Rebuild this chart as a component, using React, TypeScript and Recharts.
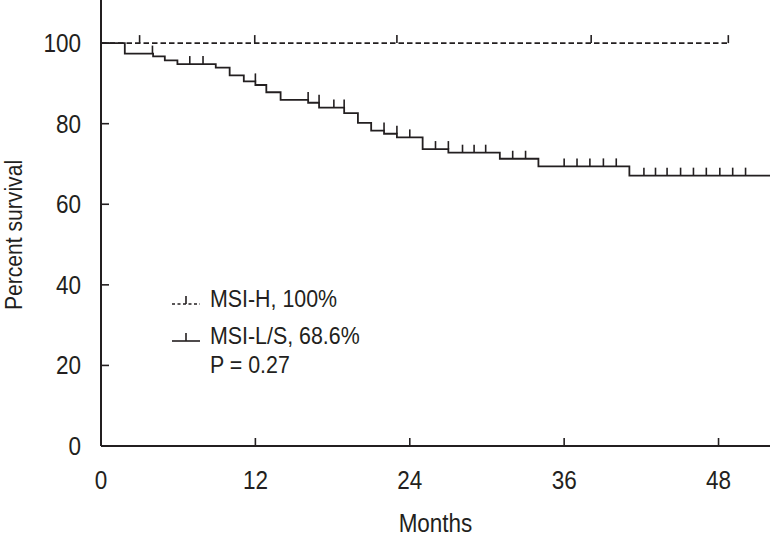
import { ComposedChart, Line, Scatter, XAxis, YAxis, Legend, Label } from "recharts";

// MSI-L/S Kaplan-Meier steps (months, percent surviving)
const msiLsMonths = [0, 1.85, 4.05, 4.96, 5.94, 8.92, 10.0, 11.1, 12.0, 12.85, 13.96, 16.1, 16.95, 18.9, 19.97, 21.0, 22.0, 23.0, 25.0, 27.0, 31.0, 34.0, 41.07, 52];
const msiLsSurvival = [100, 97.4, 96.7, 95.7, 94.8, 93.9, 92.0, 90.5, 89.6, 87.8, 85.9, 85.2, 84.0, 82.6, 80.2, 78.3, 77.5, 76.6, 73.7, 72.8, 71.3, 69.4, 67.1, 67.1];

// censored MSI-L/S cases
const msiLsCensorMonths = [4.0, 6.9, 7.93, 12.0, 16.1, 16.95, 18.1, 18.9, 22.0, 23.0, 24.0, 26.0, 27.0, 28.1, 29.0, 29.9, 32.0, 33.0, 36.0, 37.0, 38.0, 39.05, 40.05, 42.2, 43.1, 44.0, 45.05, 46.05, 47.05, 48.1, 49.1, 50.1];
const msiLsCensorSurvival = [97.4, 94.8, 94.8, 90.5, 85.9, 85.2, 84.0, 84.0, 78.3, 77.5, 76.6, 73.7, 73.7, 72.8, 72.8, 72.8, 71.3, 71.3, 69.4, 69.4, 69.4, 69.4, 69.4, 67.1, 67.1, 67.1, 67.1, 67.1, 67.1, 67.1, 67.1, 67.1];

// MSI-H: nobody died
const msiHMonths = [0, 48.76];
const msiHSurvival = [100, 100];
const msiHCensorMonths = [3.0, 11.95, 23.0, 38.1, 48.76];
const msiHCensorSurvival = [100, 100, 100, 100, 100];

const monthTicks = [0, 12, 24, 36, 48];
const percentTicks = [0, 20, 40, 60, 80, 100];

const INK = "#231f20";
const FONT = "'Liberation Sans', Arial, sans-serif";

const zip = (xs: number[], ys: number[]) => xs.map((m, i) => ({ m, s: ys[i] }));

const msiLsData = zip(msiLsMonths, msiLsSurvival);
const msiLsCensors = zip(msiLsCensorMonths, msiLsCensorSurvival);
const msiHData = zip(msiHMonths, msiHSurvival);
const msiHCensors = zip(msiHCensorMonths, msiHCensorSurvival);

// squeezed text to look like the condensed face of the original
const CText = ({ x, y, size, anchor = "start", sx = 0.88, rotate = 0, children }: any) => (
  <text
    transform={`translate(${x}, ${y}) rotate(${rotate}) scale(${sx}, 1)`}
    textAnchor={anchor}
    fill={INK}
    fontSize={size}
    fontFamily={FONT}
  >
    {children}
  </text>
);

const CensorMark = (props: any) => {
  const { cx, cy } = props;
  return <line x1={cx} x2={cx} y1={cy} y2={cy - 8} stroke={INK} strokeWidth={1.6} />;
};

const YTick = (props: any) => {
  const { x, y, payload } = props;
  return (
    <g>
      <line x1={x} x2={x + 8} y1={y} y2={y} stroke={INK} strokeWidth={1.6} />
      <CText x={x - 20} y={y + 9} size={25} anchor="end" sx={0.9}>{payload.value}</CText>
    </g>
  );
};

const XTick = (props: any) => {
  const { x, y, payload } = props;
  return (
    <g>
      <line x1={x} x2={x} y1={y} y2={y - 8} stroke={INK} strokeWidth={1.6} />
      <CText x={x} y={y + 43} size={25} anchor="middle" sx={0.9}>{payload.value}</CText>
    </g>
  );
};

const renderLegend = () => (
  <svg width={230} height={110} style={{ display: "block" }}>
    <line x1={12} x2={40} y1={24} y2={24} stroke={INK} strokeWidth={1.6} strokeDasharray="3 2.5" />
    <line x1={26} x2={26} y1={24} y2={16} stroke={INK} strokeWidth={1.6} />
    <CText x={50} y={27} size={23.5} sx={0.91}>MSI-H, 100%</CText>
    <line x1={12} x2={40} y1={61} y2={61} stroke={INK} strokeWidth={1.6} />
    <line x1={26} x2={26} y1={61} y2={53} stroke={INK} strokeWidth={1.6} />
    <CText x={50} y={64} size={23.5} sx={0.91}>MSI-L/S, 68.6%</CText>
    <CText x={50} y={93} size={23.5} sx={0.91}>P = 0.27</CText>
  </svg>
);

export default function App() {
  return (
    <div style={{ width: 770, height: 537, background: "#fff" }}>
      <style>{`body { margin: 0; }`}</style>
      <ComposedChart width={770} height={537} margin={{ top: 0, right: 0, bottom: 0, left: 0 }}>
        <XAxis
          dataKey="m"
          type="number"
          domain={[0, 52]}
          allowDataOverflow
          ticks={monthTicks}
          height={91}
          tickSize={0}
          tickMargin={0}
          tickLine={false}
          tick={<XTick />}
          axisLine={{ stroke: INK, strokeWidth: 2 }}
        >
          <Label
            content={(p: any) => {
              const vb = p.viewBox;
              return (
                <CText x={vb.x + vb.width / 2} y={532} size={25} anchor="middle" sx={0.9}>
                  Months
                </CText>
              );
            }}
          />
        </XAxis>
        <YAxis
          type="number"
          domain={[0, 110.7]}
          allowDataOverflow
          ticks={percentTicks}
          width={101}
          tickSize={0}
          tickMargin={0}
          tickLine={false}
          tick={<YTick />}
          axisLine={{ stroke: INK, strokeWidth: 2 }}
        >
          <Label
            content={(p: any) => {
              const vb = p.viewBox;
              const cy = vb.y + vb.height / 2 + 12;
              return (
                <CText x={22} y={cy} size={24} anchor="middle" sx={0.88} rotate={-90}>
                  Percent survival
                </CText>
              );
            }}
          />
        </YAxis>
        <Legend
          content={renderLegend}
          layout="horizontal"
          align="center"
          verticalAlign="middle"
          wrapperStyle={{ position: "absolute", left: 160, top: 280, width: 230 }}
        />
        <Line
          data={msiHData}
          dataKey="s"
          type="stepAfter"
          stroke={INK}
          strokeWidth={1.6}
          strokeDasharray="5.5 3"
          dot={false}
          isAnimationActive={false}
        />
        <Line
          data={msiLsData}
          dataKey="s"
          type="stepAfter"
          stroke={INK}
          strokeWidth={1.8}
          dot={false}
          isAnimationActive={false}
        />
        <Scatter data={msiHCensors} dataKey="s" shape={<CensorMark />} isAnimationActive={false} />
        <Scatter data={msiLsCensors} dataKey="s" shape={<CensorMark />} isAnimationActive={false} />
      </ComposedChart>
    </div>
  );
}
